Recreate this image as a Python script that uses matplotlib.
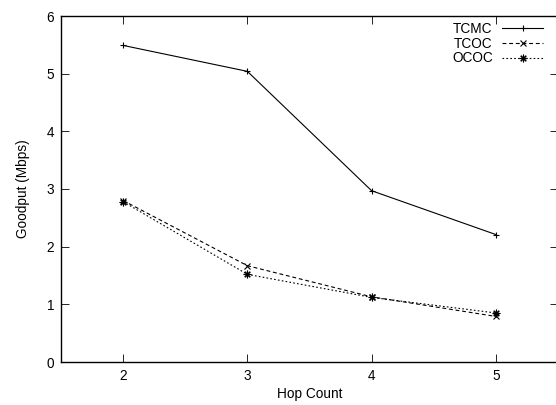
import matplotlib
matplotlib.use("Agg")
import matplotlib.pyplot as plt

# data
hops = [2, 3, 4, 5]
tcmc = [5.49, 5.04, 2.97, 2.21]
tcoc = [2.80, 1.67, 1.13, 0.79]
ococ = [2.78, 1.52, 1.12, 0.85]
labels = ["TCMC", "TCOC", "OCOC"]

plt.rcParams['font.family'] = ['Liberation Sans', 'DejaVu Sans']
plt.rcParams['font.size'] = 9.8

fig = plt.figure(figsize=(5.56, 4.05), dpi=100)
W, H = 556.0, 405.0
# axes box in pixels (right spine falls just outside the image, like the original)
left, right, top, bottom = 61, 558, 16, 362
ax = fig.add_axes([left / W, 1 - bottom / H, (right - left) / W, (bottom - top) / H])

lw = 0.8
ax.plot(hops, tcmc, color='black', lw=lw, marker='+', ms=5, mew=0.8, label=labels[0])
ax.plot(hops, tcoc, color='black', lw=lw, dashes=(3.5, 2.5), marker='x', ms=4, mew=0.8,
        label=labels[1])
ax.plot(hops, ococ, color='black', lw=lw, dashes=(1.5, 2.0), marker=(8, 2, 0), ms=5.5,
        mew=0.8, label=labels[2])

ax.set_xlim(1.5, 5.5)
ax.set_ylim(0, 6)
ax.set_xticks(hops)
ax.set_yticks(range(0, 7))
ax.tick_params(direction='in', length=6, width=0.6, top=True, right=True, pad=5)
for sp in ax.spines.values():
    sp.set_linewidth(1.0)

ax.set_xlabel("Hop Count", labelpad=3)
ax.set_ylabel("Goodput (Mbps)", labelpad=12)

leg = ax.legend(loc='upper right', bbox_to_anchor=(543 / W, 1 - 22 / H),
                bbox_transform=fig.transFigure, frameon=False, markerfirst=False,
                handlelength=3.0, handletextpad=0.7, labelspacing=0.05,
                borderpad=0, borderaxespad=0, numpoints=1)

fig.savefig("out.png", dpi=100)
